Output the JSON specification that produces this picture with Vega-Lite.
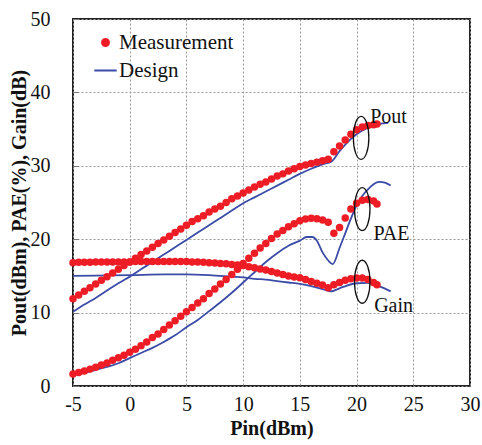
{
  "$schema": "https://vega.github.io/schema/vega-lite/v6.json",
  "width": 397,
  "height": 367,
  "autosize": {"type": "none"},
  "padding": {"left": 73, "top": 19, "right": 12, "bottom": 59},
  "background": "white",
  "config": {
    "view": {"stroke": "#222", "strokeWidth": 2},
    "font": "Liberation Serif"
  },
  "datasets": {
    "meas": [
      {"pin": -5, "pout": 11.9, "pae": 1.65, "gain": 16.8},
      {"pin": -4.5, "pout": 12.4, "pae": 1.85, "gain": 16.85},
      {"pin": -4, "pout": 12.9, "pae": 2.05, "gain": 16.85},
      {"pin": -3.5, "pout": 13.4, "pae": 2.3, "gain": 16.85},
      {"pin": -3, "pout": 13.9, "pae": 2.55, "gain": 16.9},
      {"pin": -2.5, "pout": 14.4, "pae": 2.85, "gain": 16.9},
      {"pin": -2, "pout": 14.9, "pae": 3.15, "gain": 16.9},
      {"pin": -1.5, "pout": 15.4, "pae": 3.5, "gain": 16.9},
      {"pin": -1, "pout": 15.9, "pae": 3.85, "gain": 16.9},
      {"pin": -0.5, "pout": 16.4, "pae": 4.2, "gain": 16.9},
      {"pin": 0, "pout": 16.9, "pae": 4.6, "gain": 16.9},
      {"pin": 0.5, "pout": 17.4, "pae": 5.0, "gain": 16.95},
      {"pin": 1, "pout": 17.9, "pae": 5.5, "gain": 16.95},
      {"pin": 1.5, "pout": 18.4, "pae": 6.0, "gain": 16.95},
      {"pin": 2, "pout": 18.9, "pae": 6.6, "gain": 16.95},
      {"pin": 2.5, "pout": 19.4, "pae": 7.1, "gain": 16.95},
      {"pin": 3, "pout": 19.9, "pae": 7.7, "gain": 16.95},
      {"pin": 3.5, "pout": 20.4, "pae": 8.3, "gain": 16.95},
      {"pin": 4, "pout": 20.9, "pae": 8.9, "gain": 16.95},
      {"pin": 4.5, "pout": 21.4, "pae": 9.5, "gain": 16.95},
      {"pin": 5, "pout": 21.9, "pae": 10.1, "gain": 16.95},
      {"pin": 5.5, "pout": 22.4, "pae": 10.7, "gain": 16.9},
      {"pin": 6, "pout": 22.8, "pae": 11.3, "gain": 16.9},
      {"pin": 6.5, "pout": 23.2, "pae": 11.9, "gain": 16.85},
      {"pin": 7, "pout": 23.7, "pae": 12.6, "gain": 16.8},
      {"pin": 7.5, "pout": 24.1, "pae": 13.2, "gain": 16.75},
      {"pin": 8, "pout": 24.5, "pae": 13.9, "gain": 16.7},
      {"pin": 8.5, "pout": 25.0, "pae": 14.5, "gain": 16.65},
      {"pin": 9, "pout": 25.5, "pae": 15.2, "gain": 16.55},
      {"pin": 9.5, "pout": 25.9, "pae": 15.9, "gain": 16.5},
      {"pin": 10, "pout": 26.3, "pae": 16.7, "gain": 16.4},
      {"pin": 10.5, "pout": 26.7, "pae": 17.4, "gain": 16.25},
      {"pin": 11, "pout": 27.1, "pae": 18.1, "gain": 16.1},
      {"pin": 11.5, "pout": 27.5, "pae": 18.8, "gain": 15.95},
      {"pin": 12, "pout": 27.8, "pae": 19.4, "gain": 15.8},
      {"pin": 12.5, "pout": 28.2, "pae": 20.1, "gain": 15.6},
      {"pin": 13, "pout": 28.6, "pae": 20.7, "gain": 15.4},
      {"pin": 13.5, "pout": 28.9, "pae": 21.2, "gain": 15.2},
      {"pin": 14, "pout": 29.3, "pae": 21.7, "gain": 15.0},
      {"pin": 14.5, "pout": 29.6, "pae": 22.1, "gain": 14.85},
      {"pin": 15, "pout": 29.9, "pae": 22.5, "gain": 14.75},
      {"pin": 15.5, "pout": 30.1, "pae": 22.75, "gain": 14.5},
      {"pin": 16, "pout": 30.3, "pae": 22.85, "gain": 14.25},
      {"pin": 16.5, "pout": 30.5, "pae": 22.8, "gain": 14.0},
      {"pin": 17, "pout": 30.7, "pae": 22.6, "gain": 13.75},
      {"pin": 17.5, "pout": 30.9, "pae": 22.3, "gain": 13.4},
      {"pin": 18, "pout": 31.9, "pae": 20.8, "gain": 13.8},
      {"pin": 18.5, "pout": 32.7, "pae": 21.6, "gain": 14.1},
      {"pin": 19, "pout": 33.5, "pae": 22.9, "gain": 14.4},
      {"pin": 19.5, "pout": 34.3, "pae": 24.1, "gain": 14.6},
      {"pin": 20, "pout": 34.9, "pae": 24.9, "gain": 14.7},
      {"pin": 20.5, "pout": 35.3, "pae": 25.3, "gain": 14.7},
      {"pin": 21, "pout": 35.5, "pae": 25.4, "gain": 14.5},
      {"pin": 21.5, "pout": 35.6, "pae": 25.2, "gain": 14.1},
      {"pin": 21.8, "pout": 35.7, "pae": 24.8, "gain": 13.8}
    ],
    "design": [
      {"curve": "Pout", "pin": -5, "value": 10.1},
      {"curve": "Pout", "pin": -4, "value": 11.1},
      {"curve": "Pout", "pin": -3, "value": 12.0},
      {"curve": "Pout", "pin": -2, "value": 13.0},
      {"curve": "Pout", "pin": -1, "value": 14.0},
      {"curve": "Pout", "pin": 0, "value": 14.9},
      {"curve": "Pout", "pin": 1, "value": 15.9},
      {"curve": "Pout", "pin": 2, "value": 16.9},
      {"curve": "Pout", "pin": 3, "value": 17.9},
      {"curve": "Pout", "pin": 4, "value": 18.9},
      {"curve": "Pout", "pin": 5, "value": 19.9},
      {"curve": "Pout", "pin": 6, "value": 20.9},
      {"curve": "Pout", "pin": 7, "value": 21.9},
      {"curve": "Pout", "pin": 8, "value": 22.9},
      {"curve": "Pout", "pin": 9, "value": 23.9},
      {"curve": "Pout", "pin": 10, "value": 24.9},
      {"curve": "Pout", "pin": 11, "value": 25.7},
      {"curve": "Pout", "pin": 12, "value": 26.5},
      {"curve": "Pout", "pin": 13, "value": 27.3},
      {"curve": "Pout", "pin": 14, "value": 28.1},
      {"curve": "Pout", "pin": 15, "value": 28.9},
      {"curve": "Pout", "pin": 16, "value": 29.6},
      {"curve": "Pout", "pin": 17, "value": 30.2},
      {"curve": "Pout", "pin": 17.8, "value": 30.6},
      {"curve": "Pout", "pin": 18.5, "value": 32.0},
      {"curve": "Pout", "pin": 19, "value": 32.9},
      {"curve": "Pout", "pin": 20, "value": 34.3},
      {"curve": "Pout", "pin": 21, "value": 35.2},
      {"curve": "Pout", "pin": 22, "value": 35.7},
      {"curve": "Pout", "pin": 22.8, "value": 35.85},
      {"curve": "PAE", "pin": -5, "value": 1.5},
      {"curve": "PAE", "pin": -4, "value": 1.8},
      {"curve": "PAE", "pin": -3, "value": 2.2},
      {"curve": "PAE", "pin": -2, "value": 2.6},
      {"curve": "PAE", "pin": -1, "value": 3.1},
      {"curve": "PAE", "pin": 0, "value": 3.8},
      {"curve": "PAE", "pin": 1, "value": 4.5},
      {"curve": "PAE", "pin": 2, "value": 5.2},
      {"curve": "PAE", "pin": 3, "value": 6.0},
      {"curve": "PAE", "pin": 4, "value": 6.9},
      {"curve": "PAE", "pin": 5, "value": 8.0},
      {"curve": "PAE", "pin": 6, "value": 9.0},
      {"curve": "PAE", "pin": 7, "value": 10.2},
      {"curve": "PAE", "pin": 8, "value": 11.4},
      {"curve": "PAE", "pin": 9, "value": 12.7},
      {"curve": "PAE", "pin": 10, "value": 14.1},
      {"curve": "PAE", "pin": 11, "value": 15.5},
      {"curve": "PAE", "pin": 12, "value": 16.9},
      {"curve": "PAE", "pin": 13, "value": 18.1},
      {"curve": "PAE", "pin": 14, "value": 19.1},
      {"curve": "PAE", "pin": 15, "value": 19.8},
      {"curve": "PAE", "pin": 15.6, "value": 20.3},
      {"curve": "PAE", "pin": 16.1, "value": 20.3},
      {"curve": "PAE", "pin": 16.5, "value": 19.8},
      {"curve": "PAE", "pin": 17, "value": 18.2},
      {"curve": "PAE", "pin": 17.5, "value": 17.1},
      {"curve": "PAE", "pin": 17.9, "value": 16.6},
      {"curve": "PAE", "pin": 18.5, "value": 18.8},
      {"curve": "PAE", "pin": 19, "value": 20.8},
      {"curve": "PAE", "pin": 19.5, "value": 22.8},
      {"curve": "PAE", "pin": 20, "value": 24.6},
      {"curve": "PAE", "pin": 20.5, "value": 25.9},
      {"curve": "PAE", "pin": 21, "value": 26.8},
      {"curve": "PAE", "pin": 21.5, "value": 27.5},
      {"curve": "PAE", "pin": 22, "value": 27.8},
      {"curve": "PAE", "pin": 22.5, "value": 27.7},
      {"curve": "PAE", "pin": 23, "value": 27.3},
      {"curve": "Gain", "pin": -5, "value": 15.0},
      {"curve": "Gain", "pin": -3, "value": 15.05},
      {"curve": "Gain", "pin": 0, "value": 15.1},
      {"curve": "Gain", "pin": 3, "value": 15.2},
      {"curve": "Gain", "pin": 5, "value": 15.2},
      {"curve": "Gain", "pin": 7, "value": 15.1},
      {"curve": "Gain", "pin": 9, "value": 14.9},
      {"curve": "Gain", "pin": 10, "value": 14.8},
      {"curve": "Gain", "pin": 11, "value": 14.6},
      {"curve": "Gain", "pin": 12, "value": 14.5},
      {"curve": "Gain", "pin": 13, "value": 14.3},
      {"curve": "Gain", "pin": 14, "value": 14.1},
      {"curve": "Gain", "pin": 15, "value": 13.9},
      {"curve": "Gain", "pin": 16, "value": 13.6},
      {"curve": "Gain", "pin": 17, "value": 13.2},
      {"curve": "Gain", "pin": 17.7, "value": 12.9},
      {"curve": "Gain", "pin": 18.8, "value": 13.5},
      {"curve": "Gain", "pin": 20, "value": 14.0},
      {"curve": "Gain", "pin": 21, "value": 14.05},
      {"curve": "Gain", "pin": 21.5, "value": 13.9},
      {"curve": "Gain", "pin": 22, "value": 13.6},
      {"curve": "Gain", "pin": 23, "value": 12.9}
    ],
    "ellipses": [
      {"pin": 20.4, "value": 33.8},
      {"pin": 20.5, "value": 24.1},
      {"pin": 20.5, "value": 14.2}
    ],
    "labels": [
      {"pin": 21.2, "value": 35.8, "text": "Pout"},
      {"pin": 21.5, "value": 19.9, "text": "PAE"},
      {"pin": 21.55, "value": 10.05, "text": "Gain"}
    ]
  },
  "layer": [
    {
      "data": {"name": "design"},
      "mark": {"type": "line", "strokeWidth": 1.8, "interpolate": "monotone"},
      "encoding": {
        "x": {
          "field": "pin", "type": "quantitative",
          "scale": {"domain": [-5, 30], "nice": false},
          "axis": {
            "values": [-5, 0, 5, 10, 15, 20, 25, 30],
            "labelExpr": "replace(datum.label, '\u2212', '-')",
            "title": "Pin(dBm)",
            "grid": true, "gridDash": [2, 2], "gridColor": "#9a9a9a", "gridWidth": 1,
            "domain": false, "ticks": false,
            "labelFontSize": 20, "labelPadding": 8, "labelColor": "#111", "labelFlush": false,
            "labelFont": "Liberation Serif",
            "titleFont": "Liberation Serif", "titleFontSize": 20, "titleFontWeight": "bold",
            "titlePadding": 4, "titleColor": "#111"
          }
        },
        "y": {
          "field": "value", "type": "quantitative",
          "scale": {"domain": [0, 50], "nice": false},
          "axis": {
            "values": [0, 5, 10, 15, 20, 25, 30, 35, 40, 45, 50],
            "labelExpr": "datum.value % 10 === 0 ? datum.label : ''",
            "title": "Pout(dBm), PAE(%), Gain(dB)",
            "grid": true, "gridDash": [2, 2], "gridColor": "#9a9a9a", "gridWidth": 1,
            "gridOpacity": {"condition": {"test": "datum.value % 10 === 0", "value": 1}, "value": 0},
            "domain": false, "ticks": true, "tickSize": -5, "tickColor": "#777",
            "labelFontSize": 20, "labelPadding": 28, "labelColor": "#111",
            "labelFont": "Liberation Serif", "labelFlush": false,
            "titleFont": "Liberation Serif", "titleFontSize": 20, "titleFontWeight": "bold",
            "titlePadding": 1, "titleColor": "#111"
          }
        },
        "detail": {"field": "curve"},
        "color": {
          "datum": "Design",
          "scale": {"domain": ["Measurement", "Design"], "range": ["#ee1c25", "#3b4ba8"]}
        }
      }
    },
    {
      "data": {"name": "meas"},
      "transform": [{"fold": ["pout", "pae", "gain"], "as": ["curve", "value"]}],
      "mark": {"type": "point", "filled": true, "opacity": 1, "size": 56},
      "encoding": {
        "x": {"field": "pin", "type": "quantitative"},
        "y": {"field": "value", "type": "quantitative"},
        "color": {
          "datum": "Measurement",
          "legend": {
            "orient": "none", "legendX": 22, "legendY": 13, "title": null,
            "labelFont": "Liberation Serif", "labelFontSize": 21, "labelColor": "#111",
            "labelOffset": 3, "symbolSize": 500, "rowPadding": 6,
            "encoding": {
              "symbols": {
                "shape": {"value": {"expr": "datum.value === 'Design' ? 'stroke' : 'circle'"}},
                "size": {"value": {"expr": "datum.value === 'Design' ? 500 : 48"}},
                "fill": {"value": {"expr": "datum.value === 'Design' ? 'transparent' : '#ee1c25'"}},
                "stroke": {"value": {"expr": "datum.value === 'Design' ? '#3b4ba8' : 'transparent'"}},
                "strokeWidth": {"value": 2},
                "opacity": {"value": 1}
              }
            }
          }
        }
      }
    },
    {
      "data": {"name": "ellipses"},
      "mark": {
        "type": "point",
        "shape": "M0,-1A0.36,1 0 1,1 0,1A0.36,1 0 1,1 0,-1Z",
        "size": 1849, "filled": false, "stroke": "#111", "strokeWidth": 1.3, "opacity": 1
      },
      "encoding": {
        "x": {"field": "pin", "type": "quantitative"},
        "y": {"field": "value", "type": "quantitative"}
      }
    },
    {
      "data": {"name": "labels"},
      "mark": {"type": "text", "align": "left", "baseline": "alphabetic", "font": "Liberation Serif", "fontSize": 20, "color": "#111"},
      "encoding": {
        "x": {"field": "pin", "type": "quantitative"},
        "y": {"field": "value", "type": "quantitative"},
        "text": {"field": "text"}
      }
    }
  ]
}
